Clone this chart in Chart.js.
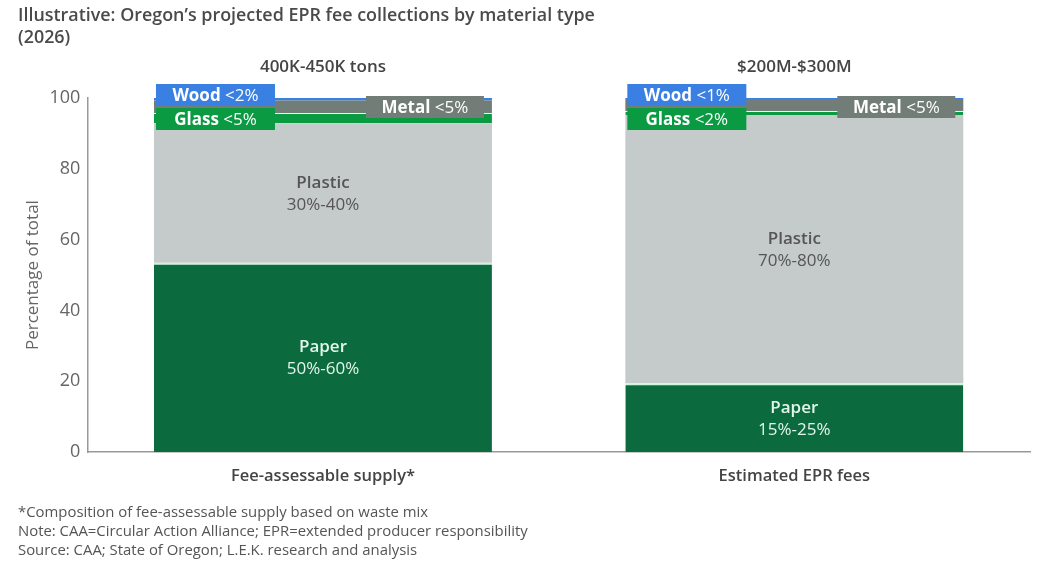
<!DOCTYPE html>
<html>
<head>
<meta charset="utf-8">
<script src="https://cdn.jsdelivr.net/npm/chart.js@4.4.1/dist/chart.umd.min.js"></script>
<style>
  body { margin: 0; background: #fff; font-family: "Open Sans", Lato, sans-serif; }
  #wrap { position: relative; width: 1044px; height: 571px; overflow: hidden; }
  #chartBox { position: absolute; left: 0; top: 0; width: 1044px; height: 571px; }
  .title { position: absolute; left: 18px; top: 3px; font-size: 17.9px; font-weight: 600; color: #4a4a4a; line-height: 22px; }
  .notes { position: absolute; left: 18px; top: 502px; font-size: 14.9px; color: #555; line-height: 19px; }
</style>
</head>
<body>
<div id="wrap">
  <div id="chartBox"><canvas id="chart"></canvas></div>
  <div class="title">Illustrative: Oregon’s projected EPR fee collections by material type<br>(2026)</div>
  <div class="notes">*Composition of fee-assessable supply based on waste mix<br>Note: CAA=Circular Action Alliance; EPR=extended producer responsibility<br>Source: CAA; State of Oregon; L.E.K. research and analysis</div>
</div>
<script>
// Datos (porcentaje del total)
const categories = ['Fee-assessable supply*', 'Estimated EPR fees'];
const barTitles = ['400K-450K tons', '$200M-$300M'];
const paper = [53.5, 19.5];
const plastic = [39.3, 75.7];
const glass = [3.0, 1.1];
const metal = [3.5, 3.4];
const wood = [0.7, 0.3];
const paperLabels = ['50%-60%', '15%-25%'];
const plasticLabels = ['30%-40%', '70%-80%'];
const glassLabels = ['<5%', '<2%'];
const metalLabels = ['<5%', '<5%'];
const woodLabels = ['<2%', '<1%'];
const yTicks = [0, 20, 40, 60, 80, 100];

const FONT = '"Open Sans", Lato, sans-serif';

// Dibuja una etiqueta tipo "pastilla": nombre en negrita + valor
function badge(ctx, x, y, w, h, color, name, value) {
    ctx.fillStyle = color;
    ctx.fillRect(x, y, w, h);
    ctx.font = '700 17px ' + FONT;
    const w1 = ctx.measureText(name + ' ').width;
    ctx.font = '17px ' + FONT;
    const w2 = ctx.measureText(value).width;
    let tx = x + (w - w1 - w2) / 2;
    ctx.fillStyle = '#ffffff';
    ctx.textAlign = 'left';
    ctx.textBaseline = 'middle';
    ctx.font = '700 17px ' + FONT;
    ctx.fillText(name + ' ', tx, y + h / 2 + 1);
    ctx.font = '17px ' + FONT;
    ctx.fillText(value, tx + w1, y + h / 2 + 1);
}

const labelsPlugin = {
    id: 'segmentLabels',
    afterDatasetsDraw(chart) {
        const ctx = chart.ctx;
        ctx.save();
        const metas = chart.data.datasets.map((d, i) => chart.getDatasetMeta(i));
        categories.forEach((c, i) => {
            const pEl = metas[0].data[i];
            const plEl = metas[1].data[i];
            const topEl = metas[4].data[i];
            const left = pEl.x - pEl.width / 2;
            const right = pEl.x + pEl.width / 2;
            const top = topEl.y;

            // Titulo encima de cada barra
            ctx.textAlign = 'center';
            ctx.textBaseline = 'middle';
            ctx.fillStyle = '#444';
            ctx.font = '600 17px ' + FONT;
            ctx.fillText(barTitles[i], pEl.x, 67);

            // Paper
            let mid = (pEl.y + pEl.base) / 2;
            ctx.fillStyle = '#e2f6ea';
            ctx.font = '600 17px ' + FONT;
            ctx.fillText('Paper', pEl.x, mid - 10);
            ctx.font = '17px ' + FONT;
            ctx.fillText(paperLabels[i], pEl.x, mid + 12);

            // Plastic
            mid = (plEl.y + plEl.base) / 2;
            ctx.fillStyle = '#555';
            ctx.font = '600 17px ' + FONT;
            ctx.fillText('Plastic', plEl.x, mid - 10);
            ctx.font = '17px ' + FONT;
            ctx.fillText(plasticLabels[i], plEl.x, mid + 12);

            // Pastillas pequeñas
            badge(ctx, left + 2, top + 10, 119, 22, '#0a9a42', 'Glass', glassLabels[i]);
            badge(ctx, left + 2, top - 14, 119, 22, '#3a7fe2', 'Wood', woodLabels[i]);
            badge(ctx, right - 126, top - 2, 118, 22, '#737d78', 'Metal', metalLabels[i]);
        });
        ctx.restore();
    }
};

new Chart(document.getElementById('chart'), {
    type: 'bar',
    data: {
        labels: categories,
        datasets: [
            { label: 'Paper', data: paper, backgroundColor: '#0b6b3e', borderColor: '#cdf3dc', borderWidth: { top: 2, left: 0, right: 0, bottom: 0 }, borderSkipped: false },
            { label: 'Plastic', data: plastic, backgroundColor: '#c5cbcb' },
            { label: 'Glass', data: glass, backgroundColor: '#0a9a42', borderColor: '#e8f8ee', borderWidth: { top: 1, left: 0, right: 0, bottom: 0 }, borderSkipped: false },
            { label: 'Metal', data: metal, backgroundColor: '#737d78' },
            { label: 'Wood', data: wood, backgroundColor: '#3a7fe2' }
        ]
    },
    options: {
        responsive: true,
        maintainAspectRatio: false,
        animation: false,
        categoryPercentage: 1,
        barPercentage: 0.717,
        layout: { padding: { top: 98, bottom: 79, left: 19, right: 14 } },
        plugins: {
            legend: { display: false },
            tooltip: { enabled: false }
        },
        scales: {
            x: {
                stacked: true,
                grid: { display: false, drawTicks: true },
                border: { color: '#999', width: 1.5 },
                ticks: { color: '#444', font: { family: FONT, size: 16.5, weight: 600 }, padding: 6 }
            },
            y: {
                stacked: true,
                min: 0,
                max: 100,
                afterBuildTicks: (scale) => { scale.ticks = yTicks.map(v => ({ value: v })); },
                grid: { display: false, drawOnChartArea: false, drawTicks: true, tickLength: 5, tickColor: '#999' },
                border: { color: '#999', width: 1.5 },
                ticks: { color: '#666', font: { family: FONT, size: 18 }, padding: 2 },
                title: { display: true, text: 'Percentage of total', color: '#666', font: { family: FONT, size: 17 }, padding: { bottom: 4 } }
            }
        }
    },
    plugins: [labelsPlugin]
});
</script>
</body>
</html>
